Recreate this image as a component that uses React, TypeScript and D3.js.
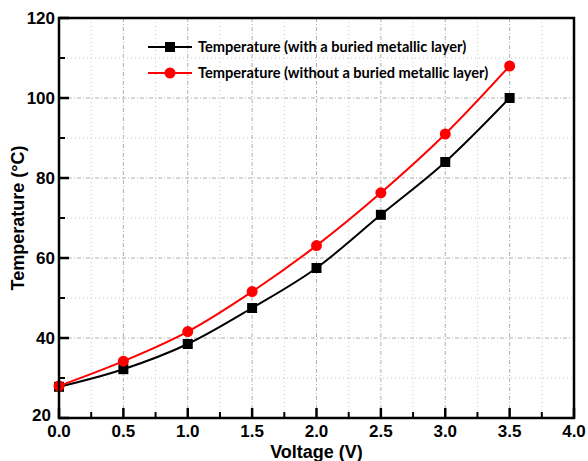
import React from "react";
import * as d3 from "d3";

const voltages = [0, 0.5, 1.0, 1.5, 2.0, 2.5, 3.0, 3.5];
const tempWith = [27.8, 32.2, 38.5, 47.5, 57.5, 70.8, 84.0, 100.0];
const tempWithout = [28.0, 34.2, 41.6, 51.6, 63.1, 76.3, 91.0, 108.0];
const xTicks = [0, 0.5, 1.0, 1.5, 2.0, 2.5, 3.0, 3.5, 4.0];
const yTicks = [20, 40, 60, 80, 100, 120];
const seriesNames = [
  "Temperature (with a buried metallic layer)",
  "Temperature (without a buried metallic layer)",
];

const W = 588, H = 461;
const L = 59, R = 574, T = 18, B = 418;

export default function App() {
  const x = d3.scaleLinear().domain([0, 4]).range([L, R]);
  const y = d3.scaleLinear().domain([20, 120]).range([B, T]);
  const line = d3
    .line<number>()
    .x((_, i) => x(voltages[i]))
    .y((d) => y(d))
    .curve(d3.curveMonotoneX);

  const xMinor = d3.range(0.25, 4, 0.5);
  const yMinor = d3.range(30, 120, 20);
  const font = "'Liberation Sans', Arial, sans-serif";
  const legFont = "Lato, 'Open Sans', sans-serif";

  return (
    <svg width={W} height={H} style={{ position: "absolute", left: 0, top: 0 }}>
      <rect width={W} height={H} fill="white" />
      {xTicks.slice(1, -1).map((v) => (
        <line key={"gx" + v} x1={x(v)} x2={x(v)} y1={T} y2={B} stroke="#b0b0b0" strokeWidth={1} strokeDasharray="4,2,1,2" />
      ))}
      {xMinor.map((v) => (
        <line key={"gxm" + v} x1={x(v)} x2={x(v)} y1={T} y2={B} stroke="#c8c8c8" strokeWidth={1} strokeDasharray="1,3" />
      ))}
      {yTicks.slice(1, -1).map((v) => (
        <line key={"gy" + v} x1={L} x2={R} y1={y(v)} y2={y(v)} stroke="#b0b0b0" strokeWidth={1} strokeDasharray="4,2,1,2" />
      ))}
      {yMinor.map((v) => (
        <line key={"gym" + v} x1={L} x2={R} y1={y(v)} y2={y(v)} stroke="#c8c8c8" strokeWidth={1} strokeDasharray="1,3" />
      ))}
      <path d={line(tempWith) || ""} fill="none" stroke="black" strokeWidth={2} />
      <path d={line(tempWithout) || ""} fill="none" stroke="red" strokeWidth={2} />
      {tempWith.map((v, i) => (
        <rect key={"s" + i} x={x(voltages[i]) - 5} y={y(v) - 5} width={10} height={10} fill="black" />
      ))}
      {tempWithout.map((v, i) => (
        <circle key={"c" + i} cx={x(voltages[i])} cy={y(v)} r={5.5} fill="red" />
      ))}
      <rect x={L} y={T} width={R - L} height={B - T} fill="none" stroke="black" strokeWidth={2.5} />
      {xTicks.map((v) => (
        <line key={"tx" + v} x1={x(v)} x2={x(v)} y1={B} y2={B - 10} stroke="black" strokeWidth={2.5} />
      ))}
      {xMinor.map((v) => (
        <line key={"txm" + v} x1={x(v)} x2={x(v)} y1={B} y2={B - 6} stroke="black" strokeWidth={2} />
      ))}
      {yTicks.map((v) => (
        <line key={"ty" + v} x1={L} x2={L + 10} y1={y(v)} y2={y(v)} stroke="black" strokeWidth={2.5} />
      ))}
      {yMinor.map((v) => (
        <line key={"tym" + v} x1={L} x2={L + 6} y1={y(v)} y2={y(v)} stroke="black" strokeWidth={2} />
      ))}
      {xTicks.map((v) => (
        <text key={"lx" + v} x={x(v)} y={B + 19} textAnchor="middle" fontFamily={font} fontWeight="bold" fontSize={17}>
          {v.toFixed(1)}
        </text>
      ))}
      {yTicks.map((v) => (
        <text key={"ly" + v} x={v === 20 ? L - 8 : L - 4} y={v === 20 ? y(v) + 3 : y(v) + 6} textAnchor="end" fontFamily={font} fontWeight="bold" fontSize={17}>
          {v}
        </text>
      ))}
      <text x={(L + R) / 2} y={B + 40} textAnchor="middle" fontFamily={font} fontWeight="bold" fontSize={18}>
        Voltage (V)
      </text>
      <text transform={`translate(24,${(T + B) / 2}) rotate(-90)`} textAnchor="middle" fontFamily={font} fontWeight="bold" fontSize={18}>
        Temperature (°C)
      </text>
      <line x1={148} x2={192} y1={47} y2={47} stroke="black" strokeWidth={2} />
      <rect x={165} y={42} width={10} height={10} fill="black" />
      <text x={198} y={52} fontFamily={legFont} fontWeight="bold" fontSize={14.6}>{seriesNames[0]}</text>
      <line x1={148} x2={192} y1={73} y2={73} stroke="red" strokeWidth={2} />
      <circle cx={170} cy={73} r={5.5} fill="red" />
      <text x={198} y={78} fontFamily={legFont} fontWeight="bold" fontSize={14.6}>{seriesNames[1]}</text>
    </svg>
  );
}
